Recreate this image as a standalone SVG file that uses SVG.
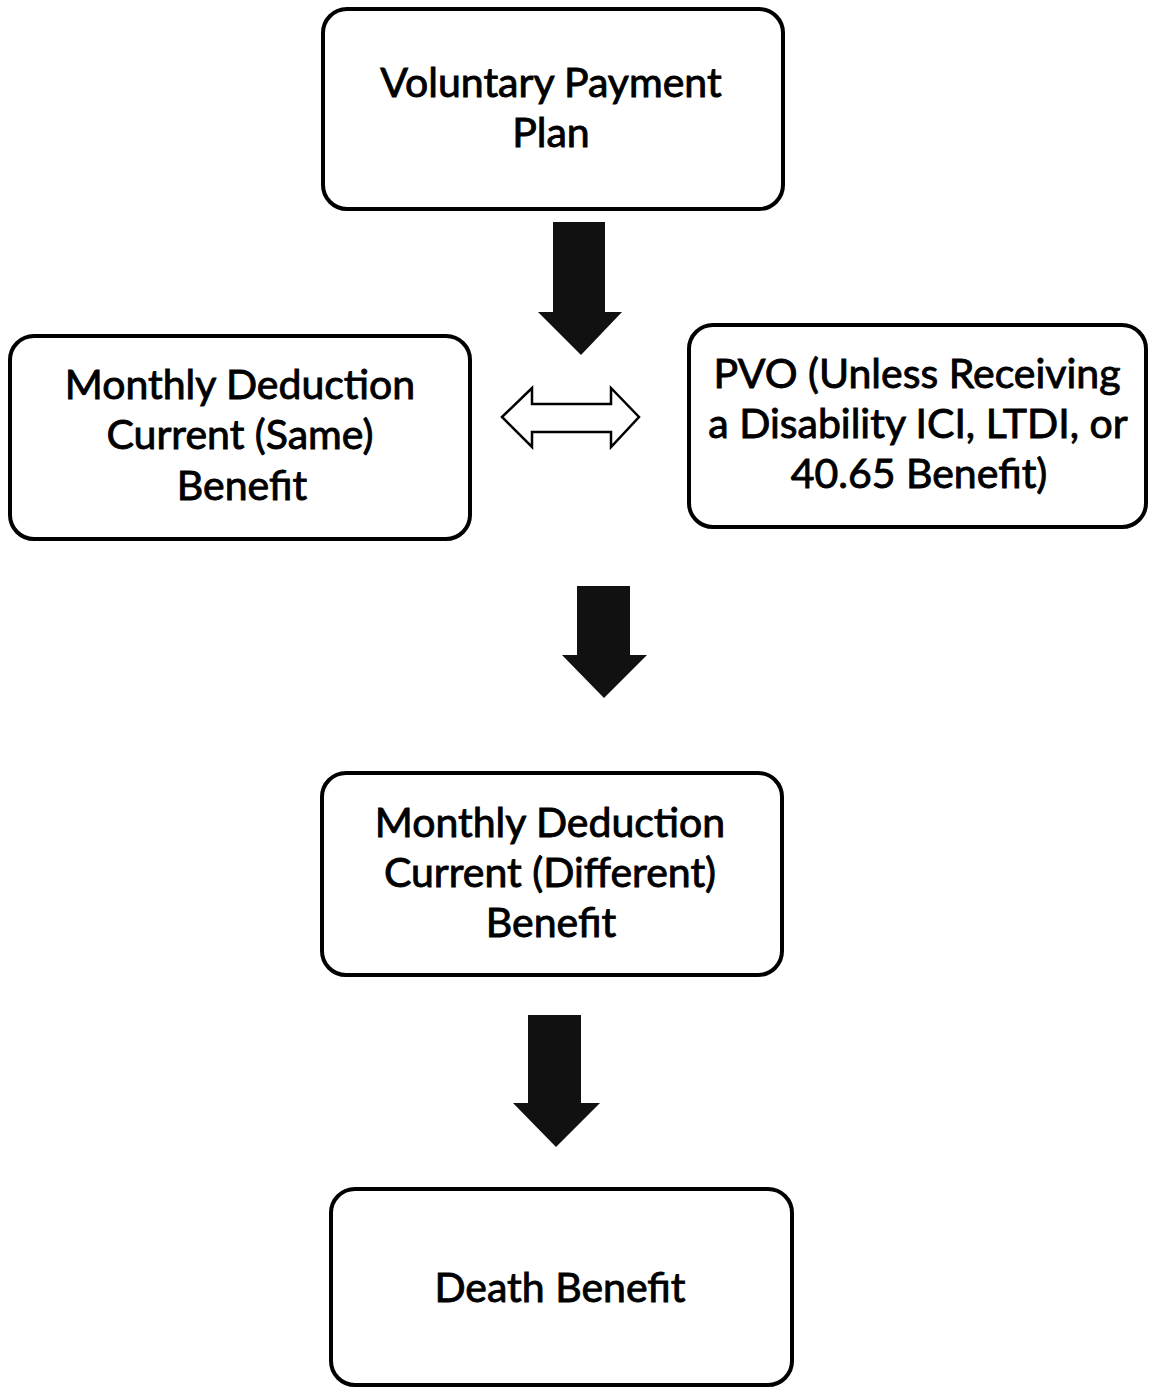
<svg xmlns="http://www.w3.org/2000/svg" width="1149" height="1388" viewBox="0 0 1149 1388">
<style>
.box{fill:#fff;stroke:#000;stroke-width:4}
.t{font-family:Lato,"Open Sans","Liberation Sans",sans-serif;font-size:41px;fill:#000;stroke:#000;stroke-width:0.9;text-anchor:middle}
.solid{fill:#111;stroke:none}
.hollow{fill:#fff;stroke:#000;stroke-width:2.5;stroke-linejoin:miter}
</style>
<rect width="1149" height="1388" fill="#fff"/>
<g id="connectors">
<polygon class="solid" points="553,222 605,222 605,312 622,312 581,355 538,312 553,312"/>
<polygon class="hollow" points="502,417 532,388 532,404 611,404 611,388 639,417 611,447 611,432 532,432 532,447"/>
<polygon class="solid" points="577,586 630,586 630,655 647,655 604,698 562,655 577,655"/>
<polygon class="solid" points="528,1015 581,1015 581,1103 600,1103 556,1147 513,1103 528,1103"/>
</g>
<g id="node-voluntary">
<rect class="box" x="323" y="9" width="460" height="200" rx="24"/>
<text class="t" x="551" y="97">Voluntary Payment</text>
<text class="t" x="551" y="147">Plan</text>
</g>
<g id="node-same">
<rect class="box" x="10" y="336" width="460" height="203" rx="24"/>
<text class="t" x="240" y="399">Monthly Deduction</text>
<text class="t" x="240" y="449">Current (Same)</text>
<text class="t" x="242" y="500">Benefit</text>
</g>
<g id="node-pvo">
<rect class="box" x="689" y="325" width="457" height="202" rx="24"/>
<text class="t" x="917" y="388">PVO (Unless Receiving</text>
<text class="t" x="918" y="438">a Disability ICI, LTDI, or</text>
<text class="t" x="919" y="488">40.65 Benefit)</text>
</g>
<g id="node-different">
<rect class="box" x="322" y="773" width="460" height="202" rx="24"/>
<text class="t" x="550" y="837">Monthly Deduction</text>
<text class="t" x="550" y="887">Current (Different)</text>
<text class="t" x="551" y="937">Benefit</text>
</g>
<g id="node-death">
<rect class="box" x="331" y="1189" width="461" height="196" rx="24"/>
<text class="t" x="560" y="1302">Death Benefit</text>
</g>
</svg>
